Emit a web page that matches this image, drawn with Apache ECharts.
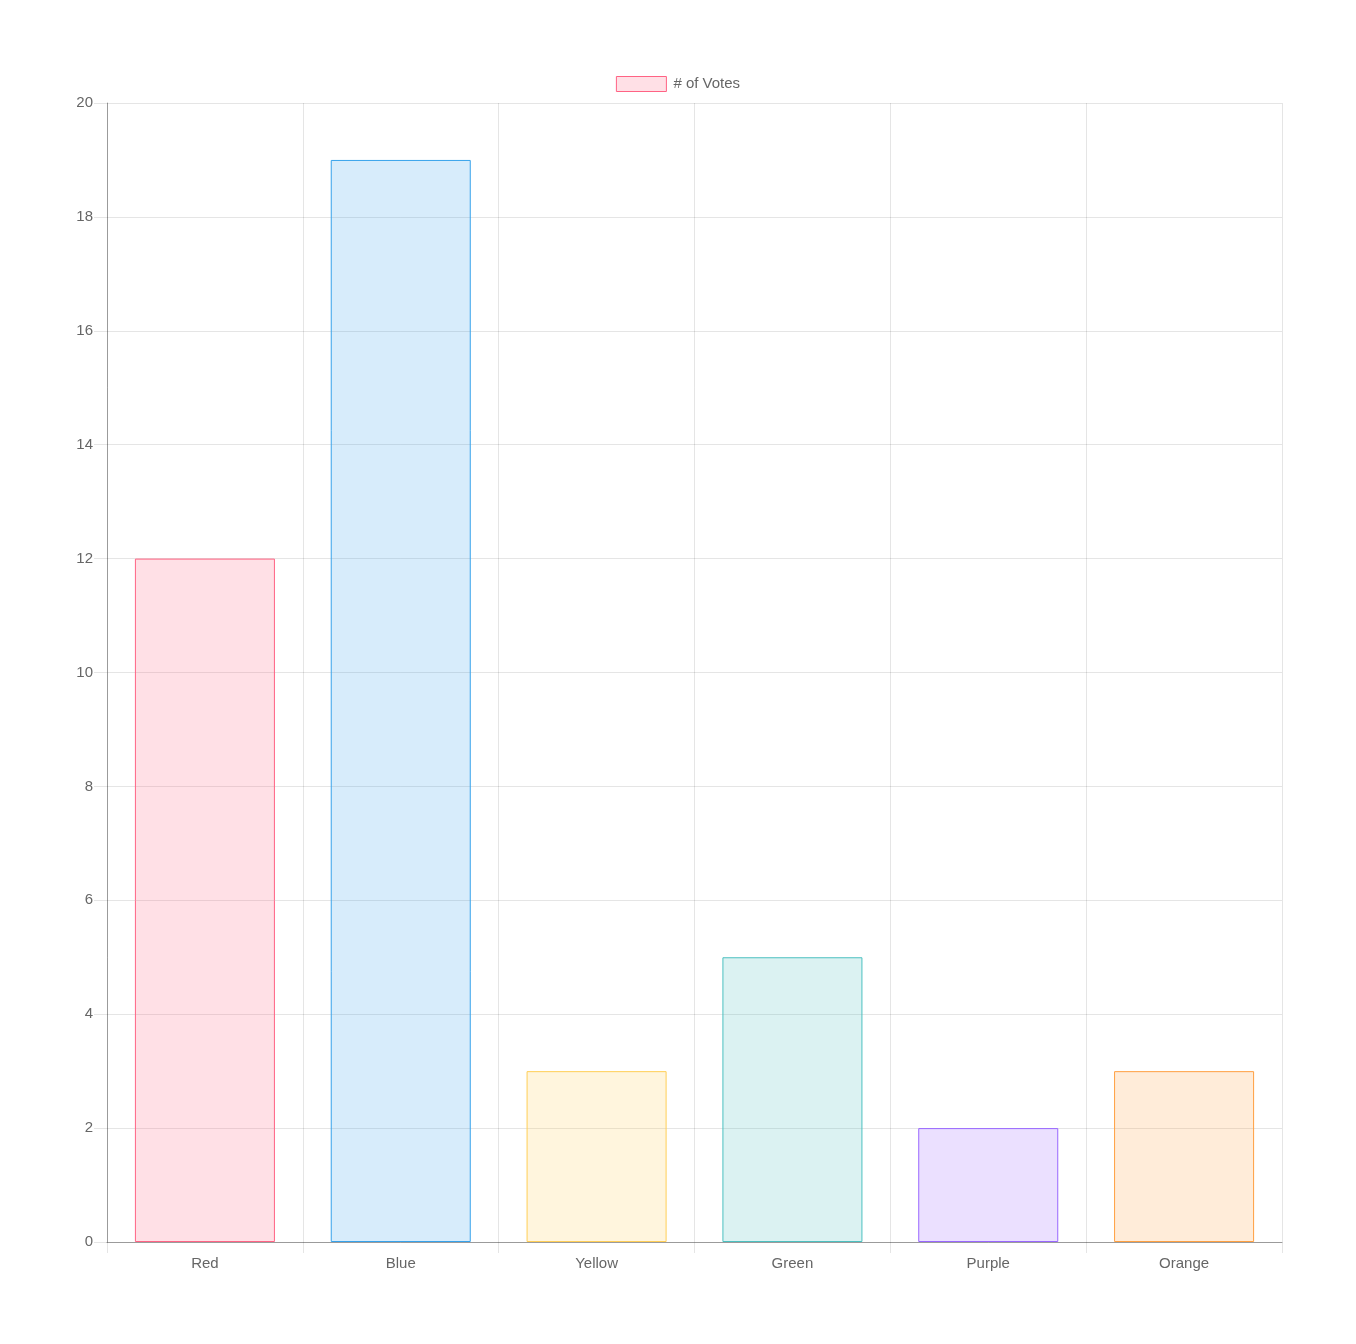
<!DOCTYPE html>
<html>
<head>
<meta charset="utf-8">
<script src="https://cdn.jsdelivr.net/npm/echarts@6/dist/echarts.min.js"></script>
<style>
html,body{margin:0;padding:0;background:#fff;}
#c{width:1356px;height:1344px;}
</style>
</head>
<body>
<div id="c"></div>
<script>
const categories = ['Red', 'Blue', 'Yellow', 'Green', 'Purple', 'Orange'];
const votes = [12, 19, 3, 5, 2, 3];
const fillColors = ['rgba(255,99,132,0.2)', 'rgba(54,162,235,0.2)', 'rgba(255,206,86,0.2)', 'rgba(75,192,192,0.2)', 'rgba(153,102,255,0.2)', 'rgba(255,159,64,0.2)'];
const borderColors = ['rgb(255,99,132)', 'rgb(54,162,235)', 'rgb(255,206,86)', 'rgb(75,192,192)', 'rgb(153,102,255)', 'rgb(255,159,64)'];
const seriesName = '# of Votes';

const font = '"Liberation Sans", Helvetica, Arial, sans-serif';
const gridColor = 'rgba(0,0,0,0.1)';
const axisColor = 'rgba(0,0,0,0.32)';

const chart = echarts.init(document.getElementById('c'), null, {renderer: 'canvas'});
chart.setOption({
  animation: false,
  backgroundColor: '#fff',
  textStyle: {fontFamily: font},
  legend: {
    top: 76,
    left: 'center',
    padding: 0,
    itemWidth: 50,
    itemHeight: 15,
    itemGap: 10,
    icon: 'rect',
    textStyle: {color: '#666', fontSize: 15, fontFamily: font, padding: [0, 0, 0, 2]},
    itemStyle: {color: fillColors[0], borderColor: borderColors[0], borderWidth: 1},
    data: [seriesName]
  },
  grid: {left: 107, right: 74, top: 103, bottom: 102, containLabel: false},
  xAxis: {
    type: 'category',
    data: categories,
    boundaryGap: true,
    axisLine: {show: true, lineStyle: {color: axisColor, width: 1}},
    axisTick: {show: true, length: 11, alignWithLabel: false, lineStyle: {color: gridColor}},
    axisLabel: {color: '#666', fontSize: 15, fontFamily: font, margin: 14},
    splitLine: {show: true, lineStyle: {color: gridColor, width: 1}}
  },
  yAxis: {
    type: 'value',
    min: 0,
    max: 20,
    interval: 2,
    axisLine: {show: true, lineStyle: {color: axisColor, width: 1}},
    axisTick: {show: true, length: 13, lineStyle: {color: gridColor}},
    axisLabel: {color: '#666', fontSize: 15, fontFamily: font, margin: 14},
    splitLine: {show: true, lineStyle: {color: gridColor, width: 1}}
  },
  series: [{
    name: seriesName,
    type: 'bar',
    barWidth: '71.5%',
    data: votes.map((v, i) => ({
      value: v,
      itemStyle: {color: fillColors[i], borderColor: borderColors[i], borderWidth: 1}
    }))
  }]
});
</script>
</body>
</html>
